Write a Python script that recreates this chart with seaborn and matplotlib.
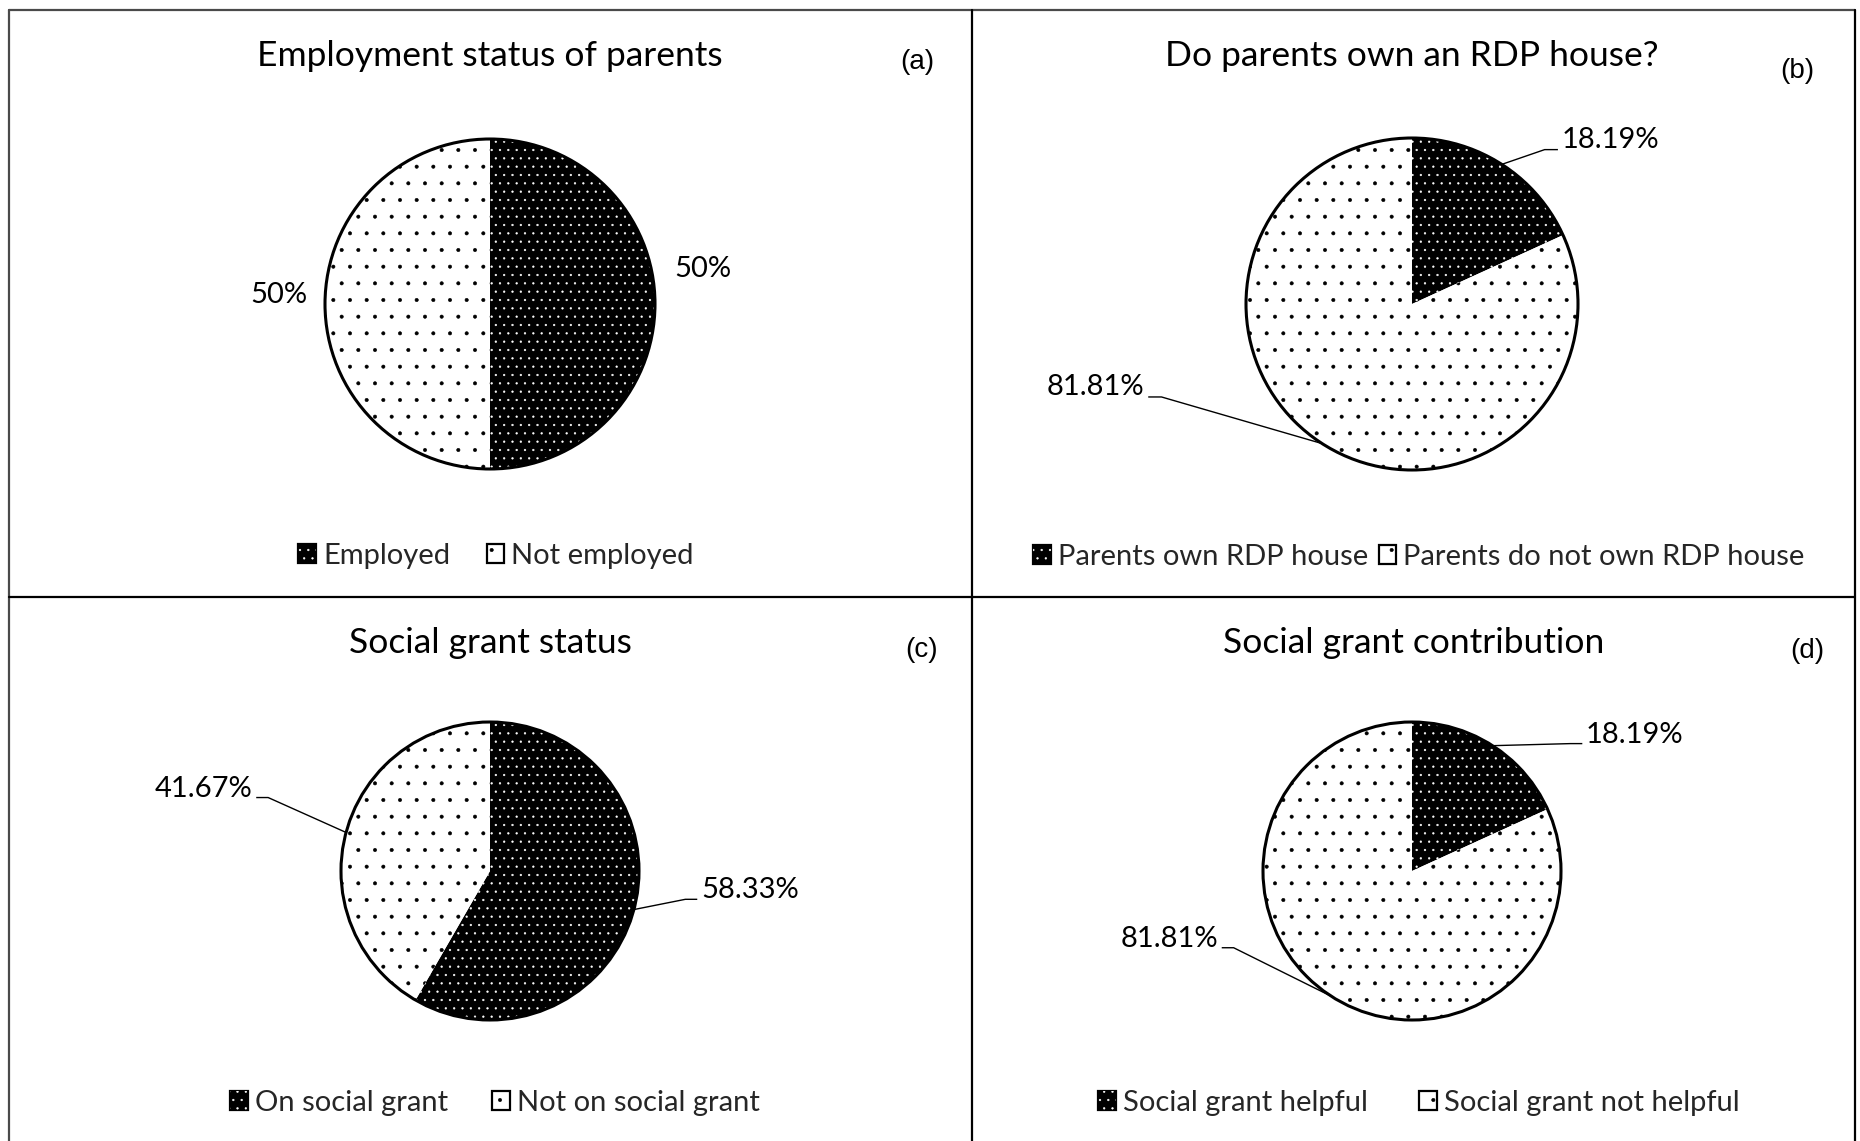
import matplotlib
matplotlib.use("Agg")
import matplotlib.pyplot as plt
import seaborn as sns
import numpy as np
from matplotlib.patches import Circle, Patch
from matplotlib.lines import Line2D

# ---- data ----
titles = ["Employment status of parents", "Do parents own an RDP house?",
          "Social grant status", "Social grant contribution"]
panel_tags = ["(a)", "(b)", "(c)", "(d)"]
legend_labels = [["Employed", "Not employed"],
                 ["Parents own RDP house", "Parents do not own RDP house"],
                 ["On social grant", "Not on social grant"],
                 ["Social grant helpful", "Social grant not helpful"]]
employment = [50, 50]
rdp_house = [18.19, 81.81]
grant_status = [58.33, 41.67]
grant_contribution = [18.19, 81.81]
panel_values = [employment, rdp_house, grant_status, grant_contribution]

# ---- style ----
sns.set_theme(style="white")
plt.rcParams["font.family"] = ["Lato", "DejaVu Sans"]
plt.rcParams["hatch.linewidth"] = 0.4

W, H, DPI = 1860, 1141, 100
fig = plt.figure(figsize=(W / DPI, H / DPI), dpi=DPI)
fig.patch.set_facecolor("white")

FACE = ["black", "white"]
HATCH_COLOR = ["white", "black"]
HATCH = ["..", "."]

# pie centre (px), radius (px)
pie_geom = [(490, 304, 165), (1412, 304, 166), (490, 871, 149), (1412, 871, 149)]
title_pos = [(490, 56), (1412, 56), (490, 643), (1414, 643)]
tag_pos = [(917, 62), (1797, 71), (922, 650), (1807, 651)]
legend_pos = [(496, 556), (1419, 557), (495, 1103), (1419, 1103)]
legend_colsp = [1.25, 0.36, 1.5, 1.75]
# label placement in pie-radius units: (x, y, ha, leader)
label_spec = [
    [(1.29, 0.215, "center", False), (-1.28, 0.055, "center", False)],
    [(0.904, 0.99, "left", True), (-1.614, -0.50, "right", True)],
    [(1.416, -0.13, "left", True), (-1.594, 0.553, "right", True)],
    [(1.168, 0.915, "left", True), (-1.302, -0.455, "right", True)],
]

L = 2.4
FS_TITLE = 25.5
FS_LABEL = 21


def fx(x):
    return x / W


def fy(y):
    return 1 - y / H


for i, vals in enumerate(panel_values):
    cx, cy, r = pie_geom[i]
    ax = fig.add_axes([fx(cx - L * r), fy(cy + L * r), 2 * L * r / W, 2 * L * r / H])
    # solid fills
    ax.pie(vals, colors=FACE, startangle=90, counterclock=False, radius=1,
           wedgeprops=dict(linewidth=0, edgecolor="none"))
    # dotted texture on top
    hw, _ = ax.pie(vals, colors=["none", "none"], startangle=90, counterclock=False,
                   radius=1, wedgeprops=dict(linewidth=0))
    for w, hc, h in zip(hw, HATCH_COLOR, HATCH):
        w.set_edgecolor(hc)
        w.set_hatch(h)
        w.set_linewidth(0)
    ax.add_patch(Circle((0, 0), 1, fill=False, edgecolor="black", linewidth=2.2, zorder=5))
    ax.set_xlim(-L, L)
    ax.set_ylim(-L, L)
    ax.set_aspect("equal")
    ax.axis("off")

    total = float(sum(vals))
    cum = 0.0
    for v, (tx, ty, ha, leader) in zip(vals, label_spec[i]):
        theta = np.deg2rad(90 - 360 * (cum + v / 2) / total)
        cum += v
        ax.text(tx, ty, f"{v:g}%", ha=ha, va="center", fontsize=FS_LABEL, color="black")
        if leader:
            ex, ey = np.cos(theta), np.sin(theta)
            sgn = 1 if ha == "left" else -1
            mx = tx - sgn * 0.025
            my = ty - 0.06
            kx = mx - sgn * 0.08
            ax.plot([ex, kx, mx], [ey, my, my], color="black", lw=1.0,
                    clip_on=False, solid_capstyle="butt")

    fig.text(fx(title_pos[i][0]), fy(title_pos[i][1]), titles[i], ha="center",
             va="center", fontsize=FS_TITLE, color="black")
    fig.text(fx(tag_pos[i][0]), fy(tag_pos[i][1]), panel_tags[i], ha="center",
             va="center", fontsize=20, color="black", family=["Liberation Sans", "DejaVu Sans"])

    handles = []
    for fc, hc, h in zip(FACE, HATCH_COLOR, HATCH):
        base = Patch(facecolor=fc, edgecolor="black", linewidth=1.6)
        dots = Patch(facecolor="none", edgecolor=hc, hatch=h, linewidth=0)
        handles.append((base, dots))
    fig.legend(handles, legend_labels[i], loc="center",
               bbox_to_anchor=(fx(legend_pos[i][0]), fy(legend_pos[i][1])),
               ncol=2, frameon=False, fontsize=FS_LABEL, columnspacing=legend_colsp[i],
               handletextpad=0.25, handlelength=0.6, handleheight=0.6, borderpad=0)

# panel frame
grey = "#4a4a4a"
frame = [((9, 1855), (10, 10), grey), ((9, 9), (10, 1141), grey),
         ((1855, 1855), (10, 1141), "black"), ((972, 972), (10, 1141), "black"),
         ((9, 1855), (597, 597), "black")]
for xs, ys, c in frame:
    fig.add_artist(Line2D([fx(x) for x in xs], [fy(y) for y in ys],
                          transform=fig.transFigure, color=c, lw=1.6))

fig.savefig("out.png", dpi=DPI, facecolor="white")
